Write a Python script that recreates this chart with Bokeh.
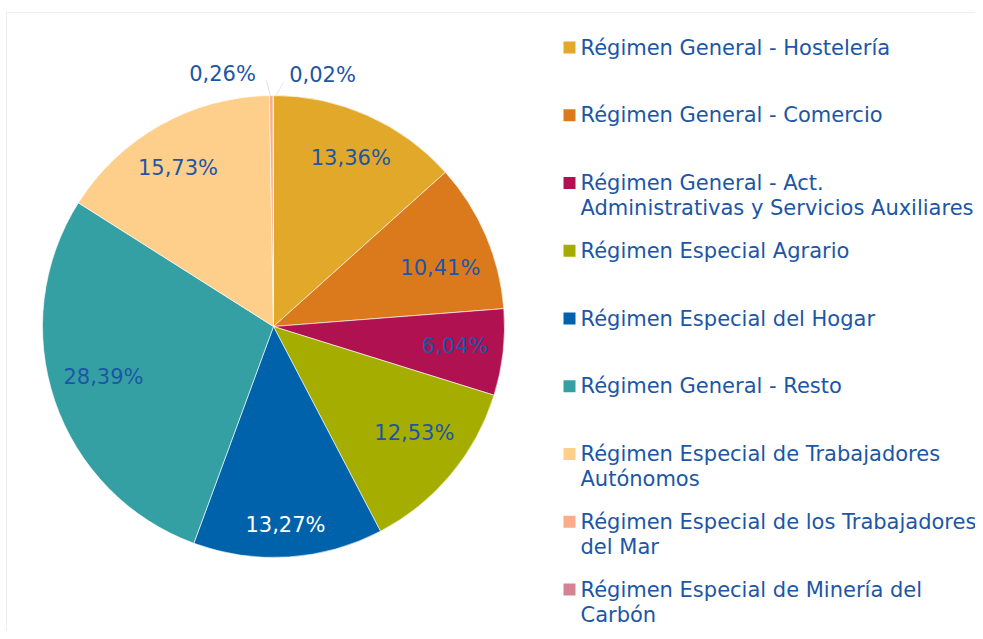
import math
from bokeh.plotting import figure
from bokeh.models import Range1d, ColumnDataSource
from bokeh.embed import file_html
from bokeh.resources import INLINE
from bokeh.core.properties import value

categories = [
    "Régimen General - Hostelería",
    "Régimen General - Comercio",
    "Régimen General - Act.\nAdministrativas y Servicios Auxiliares",
    "Régimen Especial Agrario",
    "Régimen Especial del Hogar",
    "Régimen General - Resto",
    "Régimen Especial de Trabajadores\nAutónomos",
    "Régimen Especial de los Trabajadores\ndel Mar",
    "Régimen Especial de Minería del\nCarbón",
]
shares = [13.36, 10.41, 6.04, 12.53, 13.27, 28.39, 15.73, 0.26, 0.02]
colors = ["#E1A82A", "#DB7A1D", "#B01251", "#A5AD00", "#0062AA",
          "#35A0A3", "#FDCF8A", "#F9AD8A", "#D48394"]

TEXT_BLUE = "#1C56A5"
FONT = "DejaVu Sans"

# small pixel nudges of the data labels (layout only)
nudge = [(2, 0), (-3, 14), (-2, -1), (-1, -12), (0, 14), (5, -9), (-5, 3), (-1, -1), (-1, 0)]

W, H = 975, 631
p = figure(width=W, height=H, x_range=Range1d(0, 975), y_range=Range1d(8, 639),
           output_backend="svg", toolbar_location=None, min_border=0,
           x_axis_type=None, y_axis_type=None)
p.outline_line_color = None
p.background_fill_color = "white"


def Y(py):
    return 639 - py


# faint frame of the original panel
p.line(x=[6, 6, 983], y=[Y(639), Y(12), Y(12)], line_color="#EEEEEE", line_width=1)

cx, cy, R = 273, Y(326), 231
total = sum(shares)
starts, ends = [], []
acc = 0.0
for v in shares:
    s = acc / total
    acc += v
    e = acc / total
    starts.append(math.pi / 2 - 2 * math.pi * e)
    ends.append(math.pi / 2 - 2 * math.pi * s)

src = ColumnDataSource(dict(start=starts, end=ends, color=colors))
p.wedge(x=cx, y=cy, radius=R, start_angle="start", end_angle="end",
        direction="anticlock", fill_color="color", line_color="white",
        line_width=0.6, source=src)

# leader lines for the tiny slices
p.line(x=[270, 266], y=[Y(96), Y(80)], line_color="#E6E6E6", line_width=1)
p.line(x=[275, 283], y=[Y(96), Y(82)], line_color="#E6E6E6", line_width=1)

# data labels
lx, ly, lt, lc = [], [], [], []
acc = 0.0
for i, v in enumerate(shares):
    mid = (acc + v / 2) / total
    acc += v
    txt = f"{v:.2f}".replace(".", ",") + "%"
    if v < 1:
        side = -1 if i == len(shares) - 2 else 1
        x0, y0 = cx + side * 50, Y(74)
    else:
        ang = math.pi / 2 - 2 * math.pi * mid
        rr = 0.8 * R
        x0, y0 = cx + rr * math.cos(ang), cy + rr * math.sin(ang)
    lx.append(x0 + nudge[i][0])
    ly.append(y0 - nudge[i][1])
    lt.append(txt)
    lc.append("white" if colors[i] == "#0062AA" else TEXT_BLUE)

p.text(x=lx, y=ly, text=lt, text_color=lc, text_font=value(FONT),
       text_font_size="21px", text_align="center", text_baseline="middle")

# legend
sq_x, sq_y, tx, ty, tt = [], [], [], [], []
for i, cat in enumerate(categories):
    top = 47 + i * 67.75
    sq_x.append(569)
    sq_y.append(Y(top))
    for j, line in enumerate(cat.split("\n")):
        tx.append(580)
        ty.append(Y(top + j * 25))
        tt.append(line)

p.rect(x=sq_x, y=sq_y, width=12, height=12, fill_color=colors, line_color=None)
p.text(x=tx, y=ty, text=tt, text_color=TEXT_BLUE, text_font=value(FONT),
       text_font_size="21px", text_align="left", text_baseline="middle")

open("out.html", "w").write(file_html(p, INLINE))
